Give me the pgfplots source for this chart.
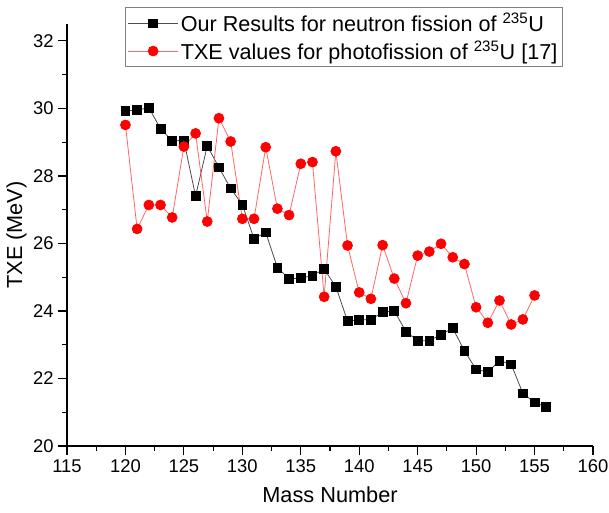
\documentclass[border=0pt]{standalone}
\usepackage{pgfplots}
\pgfplotsset{compat=1.18}
\usepackage{fontspec}
\setmainfont{Liberation Sans}
\begin{document}
\begin{tikzpicture}
\begin{axis}[
  name=ax,
  scale only axis,
  width=394.5pt, height=316.5pt,
  xmin=115, xmax=160, ymin=20, ymax=32.5,
  axis x line=bottom, axis y line=left,
  axis line style={-, line width=0.9pt},
  xtick={115,120,...,160}, ytick={20,22,...,32},
  minor x tick num=1, minor y tick num=1,
  tick align=outside,
  major tick length=6.5pt, minor tick length=3.5pt,
  tick style={line width=0.9pt, black},
  /pgf/number format/assume math mode=true,
  ticklabel style={font=\fontsize{13.8}{16}\selectfont},
  xlabel={Mass Number}, ylabel={TXE (MeV)},
  label style={font=\fontsize{16.3}{19}\selectfont},
  xlabel style={yshift=-4pt},
  ylabel style={yshift=-2pt},
  legend style={at={(0.11,1.04)}, anchor=north west, draw=gray, line width=0.8pt,
    font=\fontsize{16.2}{19}\selectfont, inner xsep=2pt, inner ysep=2pt,
    row sep=1pt, cells={anchor=west}},
  legend image code/.code={\draw[#1] (0cm,0cm) -- (1.3cm,0cm); \draw[#1, only marks] plot coordinates {(0.65cm,0cm)};},
]
\addplot[color=black!70, line width=0.6pt, mark=square*, mark size=3.3pt,
  mark options={fill=black, draw=black, solid}] coordinates {
(120,29.93) (121,29.95) (122,30.02) (123,29.40) (124,29.04) (125,29.05)
(126,27.40) (127,28.89) (128,28.25) (129,27.63) (130,27.15) (131,26.14)
(132,26.33) (133,25.28) (134,24.96) (135,24.97) (136,25.05) (137,25.24)
(138,24.72) (139,23.70) (140,23.74) (141,23.74) (142,23.97) (143,24.00)
(144,23.39) (145,23.12) (146,23.12) (147,23.30) (148,23.49) (149,22.82)
(150,22.27) (151,22.19) (152,22.53) (153,22.42) (154,21.56) (155,21.29)
(156,21.16)};
\addlegendentry{Our Results for neutron fission of \textsuperscript{235}U}
\addplot[color=red!60, line width=0.6pt, mark=*, mark size=3.7pt,
  mark options={fill=red, draw=red, solid}] coordinates {
(120,29.51) (121,26.43) (122,27.14) (123,27.14) (124,26.77) (125,28.87)
(126,29.26) (127,26.65) (128,29.71) (129,29.02) (130,26.73) (131,26.73)
(132,28.85) (133,27.03) (134,26.84) (135,28.36) (136,28.41) (137,24.42)
(138,28.73) (139,25.94) (140,24.55) (141,24.36) (142,25.95) (143,24.96)
(144,24.23) (145,25.64) (146,25.76) (147,25.99) (148,25.59) (149,25.39)
(150,24.11) (151,23.65) (152,24.31) (153,23.60) (154,23.75) (155,24.46)};
\addlegendentry{TXE values for photofission of \textsuperscript{235}U [17]}
\end{axis}
\pgfresetboundingbox
\path[use as bounding box] ([shift={(-50.25pt,-49.5pt)}]ax.south west) rectangle ([shift={(12pt,18pt)}]ax.north east);
\end{tikzpicture}
\end{document}
